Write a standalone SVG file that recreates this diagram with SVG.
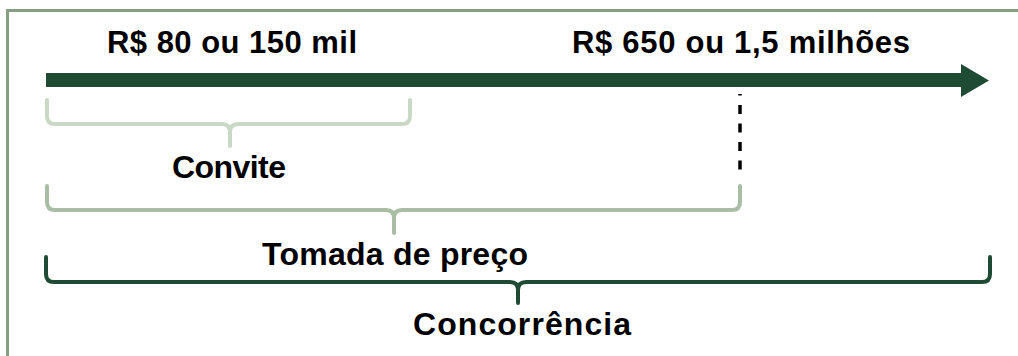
<svg xmlns="http://www.w3.org/2000/svg" width="1018" height="356" viewBox="0 0 1018 356">
<style>
.lbl{font-family:"Liberation Sans",Arial,sans-serif;font-weight:bold;fill:#000}
.hdr{font-size:31px}
.cap{font-size:32px}
.brace{fill:none;stroke-width:4;stroke-linecap:round;stroke-linejoin:round}
</style>
<rect width="1018" height="356" fill="#fff"/>
<g id="frame">
<path d="M7.5,356 V10.5 H1018" fill="none" stroke="#83a080" stroke-width="3"/>
</g>
<g id="connectors">
<polygon id="timeline" points="46,73 961,73 961,64 989,80.5 961,97 961,87 46,87" fill="#1f4a33"/>
<line id="limit" x1="740" y1="94" x2="740" y2="171" stroke="#000" stroke-width="3.5" stroke-dasharray="1.5 9.5 9 9.5 9 9.5 9 9.5 9 20"/>
</g>
<g id="threshold-low">
<text class="lbl hdr" x="107" y="53" textLength="250">R$ 80 ou 150 mil</text>
</g>
<g id="threshold-high">
<text class="lbl hdr" x="572" y="53" textLength="338">R$ 650 ou 1,5 milhões</text>
</g>
<g id="convite">
<path class="brace" stroke="#cad8c6" d="M47,100 V116 Q47,124 55,124 H222 Q230,124 230,132 V146 M410,100 V116 Q410,124 402,124 H238 Q230,124 230,132"/>
<text class="lbl cap" x="172" y="178" textLength="114">Convite</text>
</g>
<g id="tomada">
<path class="brace" stroke="#a8bda4" d="M47,186 V202 Q47,210 55,210 H386 Q394,210 394,218 V233 M740,186 V202 Q740,210 732,210 H402 Q394,210 394,218"/>
<text class="lbl cap" x="262" y="265" textLength="266">Tomada de preço</text>
</g>
<g id="concorrencia">
<path class="brace" stroke="#1f4a33" d="M46,257 V274 Q46,282 54,282 H510 Q518,282 518,290 V303 M990,257 V274 Q990,282 982,282 H526 Q518,282 518,290"/>
<text class="lbl cap" x="413" y="335" textLength="218">Concorrência</text>
</g>
</svg>
